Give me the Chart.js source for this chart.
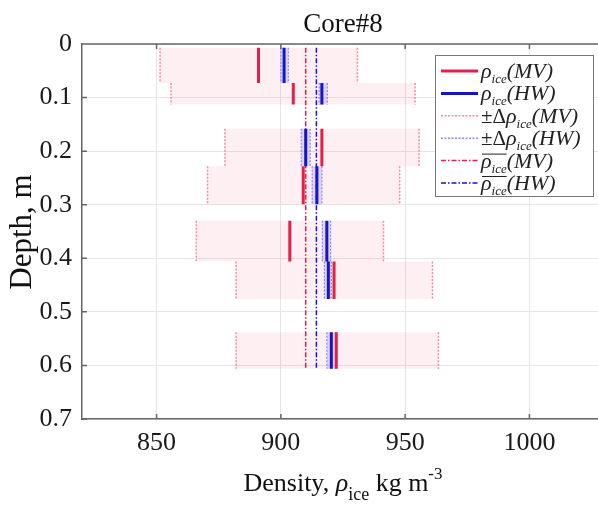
<!DOCTYPE html>
<html lang="en">
<head>
<meta charset="UTF-8" />
<title>Core#8</title>
<script src="https://cdn.jsdelivr.net/npm/chart.js"></script>
<style>
  html, body { margin: 0; padding: 0; background: #fff; overflow: hidden; }
  canvas { display: block; }
</style>
</head>
<body>
<canvas id="grafico" width="612" height="506"></canvas>
<script>
// depth interval of each sample (m)
const depthTop = [0.007, 0.073, 0.158, 0.228, 0.330, 0.406, 0.538];
const depthBot = [0.073, 0.113, 0.228, 0.299, 0.406, 0.476, 0.606];

// density, MV method (kg m-3) and its +/- range
const mvDensity = [891, 905, 916.5, 909, 903.6, 921.4, 922.3];
const mvLow = [851.4, 855.8, 877.5, 870.5, 866, 882, 882];
const mvHigh = [930.8, 954, 955.6, 947.8, 941.3, 961, 963.4];

// density, HW method and its +/- range
const hwDensity = [901.3, 916.5, 910, 914.5, 918.5, 919.1, 920.3];
const hwLow = [900, 915.4, 908.2, 912.6, 916.7, 917.5, 918.5];
const hwHigh = [903, 918.7, 911.8, 916.5, 920, 920.3, 922.1];

// mean values and depth span of the mean lines
const meanMV = 910;
const meanHW = 914.3;
const meanDepth = [0.007, 0.606];

const xTicks = [850, 900, 950, 1000];

const serif = '"Liberation Serif", "Times New Roman", serif';
const mvColor = '#e3204b';
const hwColor = '#1515c8';
const mvBandEdge = '#f28ca2';
const hwBandEdge = '#8a8af2';
const mvBandFill = 'rgba(240, 80, 110, 0.09)';
const hwBandFill = 'rgba(90, 90, 230, 0.18)';

// vertical segments, one per sample, broken by null points
function vSegs(xs) {
    const pts = [];
    xs.forEach((v, i) => {
        pts.push({ x: v, y: depthTop[i] }, { x: v, y: depthBot[i] }, { x: null, y: null });
    });
    return pts;
}

const datasets = [];
const base = { pointRadius: 0, pointHoverRadius: 0, spanGaps: false, tension: 0, fill: false };

// shaded ranges
mvLow.forEach((lo, i) => {
    datasets.push({ ...base, data: [
        { x: lo, y: depthTop[i] }, { x: lo, y: depthBot[i] },
        { x: mvHigh[i], y: depthBot[i] }, { x: mvHigh[i], y: depthTop[i] }],
        borderWidth: 0, borderColor: 'rgba(0,0,0,0)', backgroundColor: mvBandFill, fill: 'shape' });
});
hwLow.forEach((lo, i) => {
    datasets.push({ ...base, data: [
        { x: lo, y: depthTop[i] }, { x: lo, y: depthBot[i] },
        { x: hwHigh[i], y: depthBot[i] }, { x: hwHigh[i], y: depthTop[i] }],
        borderWidth: 0, borderColor: 'rgba(0,0,0,0)', backgroundColor: hwBandFill, fill: 'shape' });
});

// dotted range edges
datasets.push({ ...base, data: vSegs(mvLow).concat(vSegs(mvHigh)), borderColor: mvBandEdge, borderWidth: 1.5, borderDash: [2, 1.5] });
datasets.push({ ...base, data: vSegs(hwLow).concat(vSegs(hwHigh)), borderColor: hwBandEdge, borderWidth: 1.2, borderDash: [2, 1.5] });

// mean lines
datasets.push({ ...base, data: meanDepth.map(d => ({ x: meanMV, y: d })), borderColor: mvColor, borderWidth: 1.5, borderDash: [5, 2, 1.5, 2] });
datasets.push({ ...base, data: meanDepth.map(d => ({ x: meanHW, y: d })), borderColor: hwColor, borderWidth: 1.5, borderDash: [5, 2, 1.5, 2] });

// sample densities
datasets.push({ ...base, data: vSegs(hwDensity), borderColor: hwColor, borderWidth: 3 });
datasets.push({ ...base, data: vSegs(mvDensity), borderColor: mvColor, borderWidth: 3 });

// first pushed is drawn first
datasets.forEach((d, i) => { d.order = 100 - i; });

function fontOf(p) {
    return (p.italic ? 'italic ' : '') + p.size + 'px ' + serif;
}

// draw text made of several runs (subscripts etc), returns run positions
function drawRich(ctx, x, y, parts, align) {
    let total = 0;
    parts.forEach(p => { ctx.font = fontOf(p); p.w = ctx.measureText(p.t).width; total += p.w; });
    let cx = align === 'center' ? x - total / 2 : x;
    ctx.textAlign = 'left';
    ctx.textBaseline = 'alphabetic';
    parts.forEach(p => {
        ctx.font = fontOf(p);
        p.x = cx;
        ctx.fillText(p.t, cx, y + (p.dy || 0));
        cx += p.w;
    });
    return parts;
}

const legendItems = [
    { pre: '', mv: true, color: mvColor, width: 3, dash: [], bar: false },
    { pre: '', mv: false, color: hwColor, width: 3, dash: [], bar: false },
    { pre: '±Δ', mv: true, color: mvBandEdge, width: 1.5, dash: [2, 1.5], bar: false },
    { pre: '±Δ', mv: false, color: hwBandEdge, width: 1.5, dash: [2, 1.5], bar: false },
    { pre: '', mv: true, color: mvColor, width: 1.5, dash: [5, 2, 1.5, 2], bar: true },
    { pre: '', mv: false, color: hwColor, width: 1.5, dash: [5, 2, 1.5, 2], bar: true }
];

const decor = {
    id: 'decor',
    afterDraw(chart) {
        const ctx = chart.ctx;
        const a = chart.chartArea;
        const xs = chart.scales.x, ys = chart.scales.y;
        ctx.save();

        // top border and inward ticks
        ctx.strokeStyle = '#666';
        ctx.lineWidth = 1.5;
        ctx.beginPath();
        ctx.moveTo(a.left, a.top);
        ctx.lineTo(a.right, a.top);
        ctx.moveTo(a.right, a.top);
        ctx.lineTo(a.right, a.bottom);
        xTicks.forEach(v => {
            const px = xs.getPixelForValue(v);
            ctx.moveTo(px, a.bottom); ctx.lineTo(px, a.bottom - 5);
            ctx.moveTo(px, a.top); ctx.lineTo(px, a.top + 5);
        });
        ys.ticks.forEach(t => {
            const py = ys.getPixelForValue(t.value);
            ctx.moveTo(a.left, py); ctx.lineTo(a.left + 5, py);
        });
        ctx.stroke();

        // title
        ctx.fillStyle = '#111';
        ctx.font = '27px ' + serif;
        ctx.textAlign = 'center';
        ctx.textBaseline = 'alphabetic';
        ctx.fillText('Core#8', (a.left + a.right) / 2, 32);

        // y title
        ctx.save();
        ctx.translate(31, 232);
        ctx.rotate(-Math.PI / 2);
        ctx.font = '31px ' + serif;
        ctx.textAlign = 'center';
        ctx.fillText('Depth, m', 0, 0);
        ctx.restore();

        // x title
        drawRich(ctx, (a.left + a.right) / 2, 491, [
            { t: 'Density, ', size: 26 },
            { t: 'ρ', size: 26, italic: true },
            { t: 'ice', size: 18, dy: 9 },
            { t: ' kg m', size: 26 },
            { t: '-3', size: 17, dy: -12 }
        ], 'center');

        // legend
        const lx = 435, ly = 55, lw = 158, lh = 141;
        ctx.fillStyle = '#fff';
        ctx.fillRect(lx, ly, lw, lh);
        ctx.strokeStyle = '#777';
        ctx.lineWidth = 1;
        ctx.setLineDash([]);
        ctx.strokeRect(lx + 0.5, ly + 0.5, lw, lh);
        legendItems.forEach((it, i) => {
            const cy = ly + 16 + i * 22.4;
            ctx.strokeStyle = it.color;
            ctx.lineWidth = it.width;
            ctx.setLineDash(it.dash);
            ctx.beginPath();
            ctx.moveTo(lx + 6, cy);
            ctx.lineTo(lx + 43, cy);
            ctx.stroke();
            ctx.setLineDash([]);
            ctx.fillStyle = '#222';
            const parts = [];
            if (it.pre) parts.push({ t: it.pre, size: 21 });
            parts.push({ t: 'ρ', size: 22, italic: true });
            parts.push({ t: 'ice', size: 13, italic: true, dy: 5 });
            parts.push({ t: it.mv ? '(MV)' : '(HW)', size: 22, italic: true });
            const runs = drawRich(ctx, lx + 46, cy + 7, parts, 'left');
            if (it.bar) {
                const r0 = runs[0], r1 = runs[1];
                ctx.strokeStyle = '#222';
                ctx.lineWidth = 1;
                ctx.beginPath();
                ctx.moveTo(r0.x + 1, cy - 6.5);
                ctx.lineTo(r1.x + r1.w, cy - 6.5);
                ctx.stroke();
            }
        });
        ctx.restore();
    }
};

new Chart(document.getElementById('grafico'), {
    type: 'line',
    data: { datasets },
    options: {
        responsive: false,
        animation: false,
        devicePixelRatio: 1,
        layout: { padding: { top: 44, right: 8, bottom: 0, left: 0 } },
        plugins: { legend: { display: false }, tooltip: { enabled: false }, title: { display: false } },
        scales: {
            x: {
                type: 'linear',
                min: 820,
                max: 1030,
                afterBuildTicks: s => { s.ticks = xTicks.map(v => ({ value: v })); },
                afterFit: s => { s.height = 87; },
                grid: { color: '#e6e6e6', drawTicks: false },
                border: { color: '#666', width: 1.5 },
                ticks: {
                    font: { family: serif, size: 26 }, color: '#1a1a1a', padding: 9, autoSkip: false, maxRotation: 0,
                    callback: v => String(v)
                }
            },
            y: {
                type: 'linear',
                reverse: true,
                min: 0,
                max: 0.7,
                afterFit: s => { s.width = 82; },
                grid: { color: '#e6e6e6', drawTicks: false },
                border: { color: '#666', width: 1.5 },
                ticks: {
                    stepSize: 0.1,
                    font: { family: serif, size: 26 },
                    color: '#1a1a1a',
                    padding: 10,
                    callback: v => (Math.abs(v) < 1e-9 ? '0' : v.toFixed(1))
                }
            }
        }
    },
    plugins: [decor]
});
</script>
</body>
</html>
